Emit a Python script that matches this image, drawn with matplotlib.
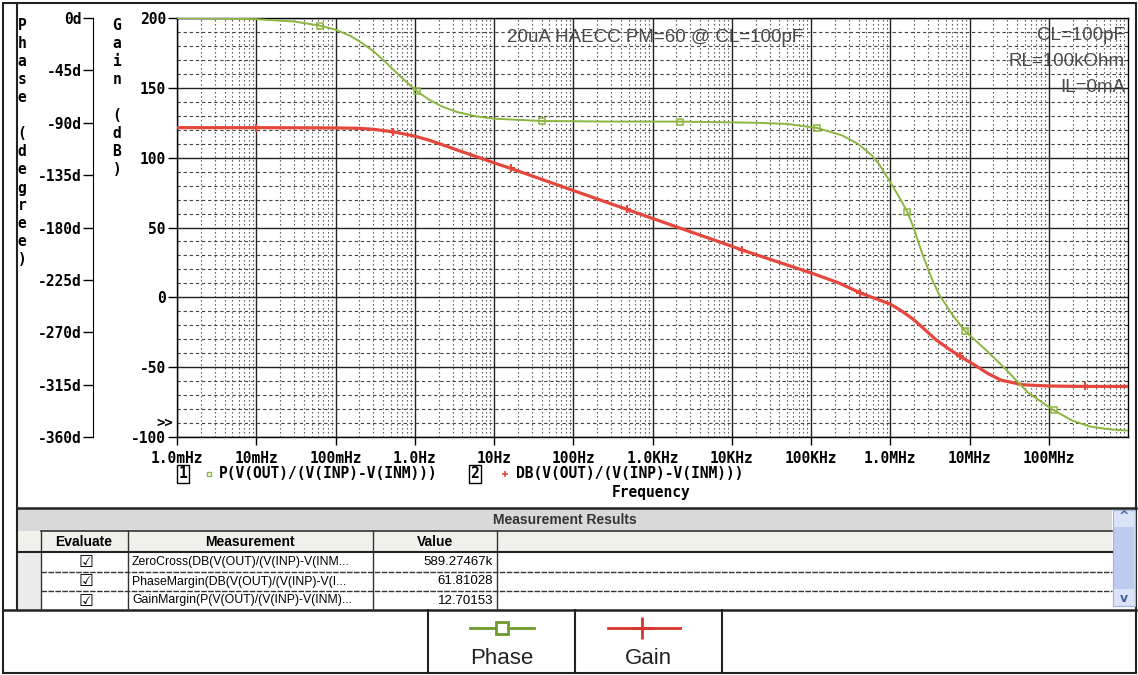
import matplotlib.pyplot as plt
from matplotlib.patches import Rectangle
from matplotlib.ticker import LogLocator, MultipleLocator

# values
phase_freq = [1e-3, 3e-3, 1e-2, 3e-2, 0.063, 0.1, 0.15, 0.2, 0.3, 0.4,
              0.52, 0.7, 1.07, 1.5, 2.2, 3.5, 6, 10, 40, 300,
              2.2e3, 2e4, 5e4, 1.2e5, 2.5e5, 4e5, 5.89e5, 7.3e5, 1e6, 1.3e6,
              1.64e6, 1.93e6, 2.58e6, 3.44e6, 4.17e6, 6.16e6, 8.8e6, 1.6e7, 2.7e7, 5.5e7,
              1.15e8, 2e8, 3.3e8, 6e8, 1e9]
phase_deg = [0, -0.3, -1, -3, -6.5, -10, -15, -20, -28.5, -36,
             -43.5, -52, -63, -70, -76, -81, -84.5, -86.5, -88.5, -89,
             -89, -90, -91, -94.5, -101, -108.5, -118.2, -126, -141, -154,
             -166.5, -178.5, -204, -226, -238, -255.5, -269, -285, -300, -322,
             -337, -346, -351, -353.5, -354.5]
phase_marks = [0.063, 1.07, 40, 2.2e3, 1.2e5, 1.64e6, 8.8e6, 1.15e8]

gain_freq = [1e-3, 1e-2, 0.1, 0.2, 0.3, 0.525, 0.7, 1, 1.5, 2.2,
             3.5, 6.4, 10, 16.3, 30, 100, 479, 1e3, 1e4, 1.33e4,
             1e5, 2.2e5, 4.15e5, 5.89e5, 1e6, 1.37e6, 1.93e6, 2.6e6, 3.8e6, 5.5e6,
             7.5e6, 1.2e7, 1.7e7, 2.5e7, 4.7e7, 1e8, 2.9e8, 1e9]
gain_db = [121.5, 121.5, 121.3, 121, 120.3, 118.6, 117.2, 115.4, 112.6, 109.4,
           105.3, 100.2, 96.3, 92.3, 87, 76.5, 62.9, 56.5, 36.6, 34,
           17.5, 10.5, 3.3, 0, -4.8, -9.5, -15.5, -22, -30.5, -37,
           -42, -49, -54.5, -59.3, -62.6, -63.5, -63.8, -63.8]
gain_marks = [0.01, 0.525, 16.3, 479, 1.33e4, 4.15e5, 7.5e6, 2.9e8]

freq_ticks = [1e-3, 1e-2, 1e-1, 1, 10, 100, 1e3, 1e4, 1e5, 1e6, 1e7, 1e8]
freq_labels = ['1.0mHz', '10mHz', '100mHz', '1.0Hz', '10Hz', '100Hz',
               '1.0KHz', '10KHz', '100KHz', '1.0MHz', '10MHz', '100MHz']
gain_ticks = [-100, -50, 0, 50, 100, 150, 200]
phase_ticks = [0, -45, -90, -135, -180, -225, -270, -315, -360]

meas_names = ['ZeroCross(DB(V(OUT)/(V(INP)-V(INM...',
              'PhaseMargin(DB(V(OUT)/(V(INP)-V(I...',
              'GainMargin(P(V(OUT)/(V(INP)-V(INM)...']
meas_values = ['589.27467k', '61.81028', '12.70153']

GREEN = '#8db640'
RED = '#e5473d'
MONO = 'DejaVu Sans Mono'
SANS = 'Liberation Sans'

W, H = 1138, 675
fig = plt.figure(figsize=(W / 100, H / 100), dpi=100)

# plot box in pixels
L, R, T, B = 177, 1128, 18, 437
ax = fig.add_axes([L / W, 1 - B / H, (R - L) / W, (B - T) / H])
ax.set_xscale('log')
ax.set_xlim(1e-3, 1e9)
ax.set_ylim(-100, 200)
ax.xaxis.set_minor_locator(LogLocator(base=10, subs=range(2, 10), numticks=100))
ax.yaxis.set_minor_locator(MultipleLocator(10))
ax.set_xticks(freq_ticks, freq_labels, fontfamily=MONO, fontweight='bold', fontsize=10.5)
ax.set_yticks(gain_ticks, [str(g) for g in gain_ticks], fontfamily=MONO,
              fontweight='bold', fontsize=10.5)
ax.tick_params(which='minor', length=0)
ax.tick_params(axis='x', which='major', length=6, width=1, pad=4)
ax.tick_params(axis='y', which='major', length=6.5, width=1, pad=1.5)
ax.xaxis.grid(True, which='major', color='#222222', lw=1.0)
ax.yaxis.grid(True, which='major', color='#222222', lw=1.0)
ax.xaxis.grid(True, which='minor', color='#444444', lw=0.8, ls=(0, (1.2, 2.4)))
ax.yaxis.grid(True, which='minor', color='#444444', lw=0.8, ls=(0, (3, 2.5)))
for s in ax.spines.values():
    s.set_linewidth(1.0)

ax.plot(gain_freq, gain_db, color=RED, lw=2.3, marker='+', ms=6, mew=1.5,
        markevery=[gain_freq.index(f) for f in gain_marks], zorder=3)

# phase axis on its own spine further left
ax2 = ax.twinx()
ax2.set_ylim(-360, 0)
ax2.spines['right'].set_visible(False)
ax2.spines['top'].set_visible(False)
ax2.spines['bottom'].set_visible(False)
ax2.spines['left'].set_visible(True)
ax2.spines['left'].set_position(('axes', (93 - L) / (R - L)))
ax2.yaxis.tick_left()
ax2.set_yticks(phase_ticks, ['%dd' % p for p in phase_ticks], fontfamily=MONO,
               fontweight='bold', fontsize=10.5)
ax2.tick_params(axis='y', length=7, width=1, pad=1)
ax2.plot(phase_freq, phase_deg, color=GREEN, lw=1.4, marker='s', ms=5,
         mfc='none', mec=GREEN, mew=1.1,
         markevery=[phase_freq.index(f) for f in phase_marks])

# overlay in pixel coordinates for labels, table and legend
ov = fig.add_axes([0, 0, 1, 1], zorder=5)
ov.set_xlim(0, W)
ov.set_ylim(H, 0)
ov.axis('off')

for i, ch in enumerate('Phase (degree)'):
    if ch != ' ':
        ov.text(22, 26 + 18 * i, ch, ha='center', va='center', fontfamily=MONO,
                fontweight='bold', fontsize=10.5)
for i, ch in enumerate('Gain (dB)'):
    if ch != ' ':
        ov.text(117, 26 + 18 * i, ch, ha='center', va='center', fontfamily=MONO,
                fontweight='bold', fontsize=10.5)
ov.text(165, 423, '>>', ha='center', va='center', fontfamily=MONO,
        fontweight='bold', fontsize=10)

# trace legend and x label
mono = dict(fontfamily=MONO, fontweight='bold', fontsize=10.5, va='center')
ov.text(183, 474, '1', ha='center', bbox=dict(boxstyle='square,pad=0.12', fc='none', ec='k', lw=1), **mono)
ov.plot([209], [474], marker='s', ms=3.5, mfc='none', mec=GREEN, mew=1)
ov.text(219, 474, 'P(V(OUT)/(V(INP)-V(INM)))', ha='left', **mono)
ov.text(475, 474, '2', ha='center', bbox=dict(boxstyle='square,pad=0.12', fc='none', ec='k', lw=1), **mono)
ov.plot([505], [474], marker='+', ms=5, mec=RED, mew=1.2)
ov.text(516, 474, 'DB(V(OUT)/(V(INP)-V(INM)))', ha='left', **mono)
ov.text(651, 492, 'Frequency', ha='center', **mono)

# annotations inside the plot
ann = dict(fontfamily=SANS, fontsize=13.5, color='#4a4a4a', va='center')
ov.text(507, 38, '20uA HAECC PM=60 @ CL=100pF', ha='left', **ann)
ov.text(1125, 35, 'CL=100pF', ha='right', **ann)
ov.text(1125, 61, 'RL=100kOhm', ha='right', **ann)
ov.text(1125, 87, 'IL=0mA', ha='right', **ann)

# window frame
ov.add_patch(Rectangle((3, 3), 1133, 670, fc='none', ec='#222222', lw=1.5))
ov.plot([17, 17], [3, 610], color='#222222', lw=1.5)

# measurement results table
tx0, tx1 = 17, 1112
ov.add_patch(Rectangle((tx0, 508), tx1 - tx0, 23, fc='#d9d9d9', ec='none'))
ov.add_patch(Rectangle((tx0, 531), tx1 - tx0, 21, fc='#f1f1ec', ec='none'))
ov.add_patch(Rectangle((tx0, 552), 24, 58, fc='#ececec', ec='none'))
ov.plot([tx0, 1136], [508, 508], color='#222222', lw=1.8)
ov.plot([41, tx1], [531, 531], color='#333333', lw=1.2)
ov.plot([tx0, tx1], [552, 552], color='#222222', lw=1.5)
for y in [572, 591]:
    ov.plot([41, tx1], [y, y], color='#333333', lw=1.0, ls=(0, (4, 1)))
ov.plot([3, 1136], [610, 610], color='#222222', lw=1.8)
for x in [41, 128, 373, 497]:
    ov.plot([x, x], [531, 610], color='#333333', lw=1.0)

ov.text(565, 520, 'Measurement Results', ha='center', va='center',
        fontfamily=SANS, fontweight='bold', fontsize=10, color='#333333')
hdr = dict(fontfamily=SANS, fontweight='bold', fontsize=10, va='center', ha='center')
ov.text(84, 542, 'Evaluate', **hdr)
ov.text(250, 542, 'Measurement', **hdr)
ov.text(435, 542, 'Value', **hdr)
for i, (name, val) in enumerate(zip(meas_names, meas_values)):
    yc = [562, 581.5, 600.5][i]
    ov.text(86, yc, '\u2611', ha='center', va='center', fontfamily='DejaVu Sans', fontsize=12)
    ov.text(132, yc, name, ha='left', va='center', fontfamily=SANS, fontsize=8.8)
    ov.text(493, yc, val, ha='right', va='center', fontfamily=SANS, fontsize=9.5)

# scroll bar
ov.add_patch(Rectangle((1113, 510), 22, 96, fc='#dbe4f6', ec='#9fb2dc', lw=0.8))
ov.add_patch(Rectangle((1114, 527), 20, 62, fc='#bccbef', ec='none'))
ov.text(1124, 517, '^', ha='center', va='center', fontsize=9, color='#4060a0', fontweight='bold')
ov.text(1124, 598, 'v', ha='center', va='center', fontsize=9, color='#4060a0', fontweight='bold')

# curve legend row
for x in [428, 575, 722]:
    ov.plot([x, x], [610, 673], color='#222222', lw=1.5)
ov.plot([470, 534], [628, 628], color='#6f9a2e', lw=2)
ov.plot([502], [628], marker='s', ms=9, mfc='white', mec='#6f9a2e', mew=2)
ov.plot([608, 680], [628, 628], color='#d8352c', lw=2)
ov.plot([642], [628], marker='+', ms=16, mec='#d8352c', mew=2)
ov.text(502, 659, 'Phase', ha='center', va='center', fontfamily=SANS, fontsize=16, color='#222222')
ov.text(648, 659, 'Gain', ha='center', va='center', fontfamily=SANS, fontsize=16, color='#222222')

fig.savefig('out.png', dpi=100)
